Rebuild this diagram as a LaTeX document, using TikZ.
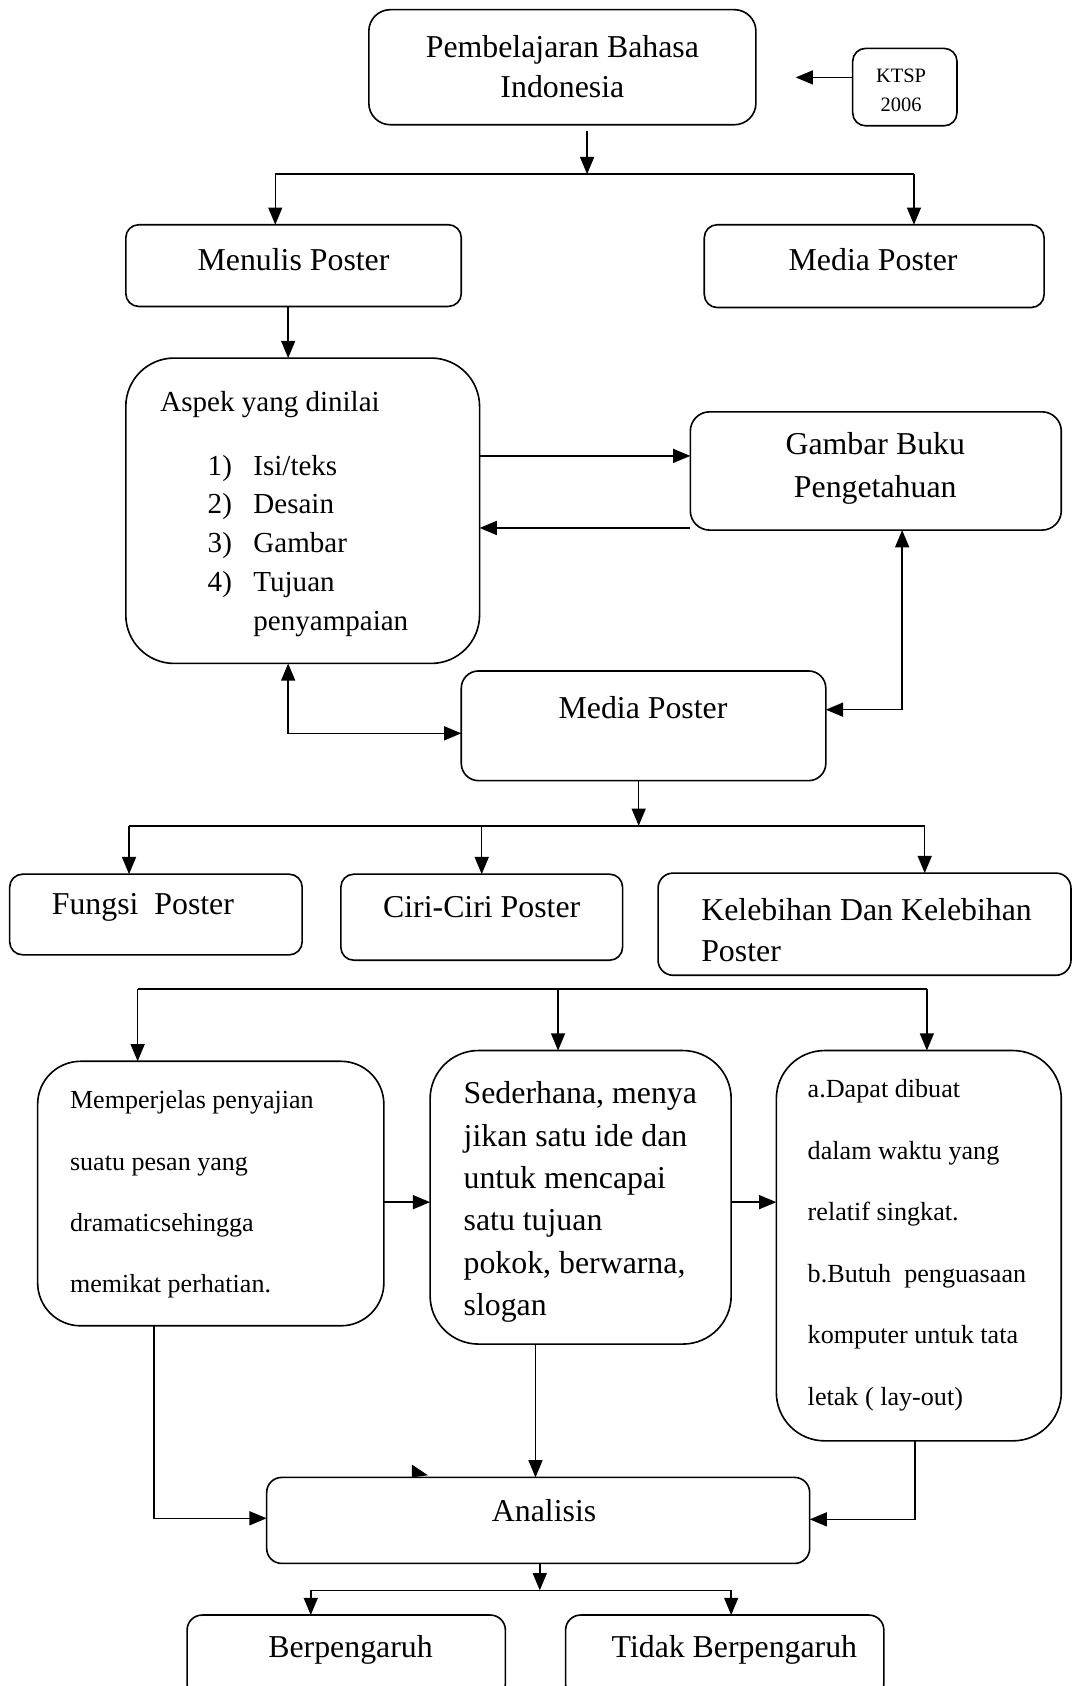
\documentclass[tikz,border=0pt]{standalone}
\usepackage{fontspec}
\setmainfont{Liberation Serif}
\usetikzlibrary{arrows.meta,calc}
\tikzset{
  box/.style={draw=black, line width=1.5pt, inner sep=0pt, outer sep=0pt, rounded corners=#1},
  box/.default=12pt,
  conn/.style={line width=1.4pt},
  arr/.style={conn, -{Triangle[length=16pt,width=13pt]}},
  arrb/.style={conn, {Triangle[length=16pt,width=13pt]}-{Triangle[length=16pt,width=13pt]}},
  big/.style={font=\fontsize{29.6}{38}\selectfont, inner sep=0pt},
  mid/.style={font=\fontsize{27}{36}\selectfont, inner sep=0pt},
  small/.style={font=\fontsize{24.3}{57.2}\selectfont, inner sep=0pt},
  tiny/.style={font=\fontsize{19}{27}\selectfont, inner sep=0pt},
}
\begin{document}
\begin{tikzpicture}[x=1pt,y=-1pt]
\useasboundingbox (0,0) rectangle (998,1568);
\clip (0,0) rectangle (998,1568);
\fill[white] (0,0) rectangle (998,1568);

% boxes
\node[box=20pt, minimum width=360pt, minimum height=107pt] (top) at (523,62.5) {};
\node[box=12pt, minimum width=97pt, minimum height=72pt] (ktsp) at (841.5,81) {};
\node[box=12pt, minimum width=312pt, minimum height=76pt] (menulis) at (273,247) {};
\node[box=12pt, minimum width=316pt, minimum height=77pt] (media1) at (813,247.5) {};
\node[box=45pt, minimum width=329pt, minimum height=284pt] (aspek) at (281.5,475) {};
\node[box=18pt, minimum width=345pt, minimum height=110pt] (gambar) at (814.5,438) {};
\node[box=16pt, minimum width=339pt, minimum height=102pt] (media2) at (598.5,675) {};
\node[box=12pt, minimum width=272pt, minimum height=75pt] (fungsi) at (145,850.5) {};
\node[box=12pt, minimum width=262pt, minimum height=80pt] (ciri) at (448,853) {};
\node[box=14pt, minimum width=384pt, minimum height=95pt] (kelebihan) at (804,859.5) {};
\node[box=40pt, minimum width=322pt, minimum height=246pt] (memper) at (196,1110) {};
\node[box=45pt, minimum width=280pt, minimum height=273pt] (seder) at (540,1113.5) {};
\node[box=45pt, minimum width=265pt, minimum height=363pt] (dapat) at (854.5,1158.5) {};
\node[box=14pt, minimum width=505pt, minimum height=80pt] (analisis) at (500.5,1414) {};
\node[box=14pt, minimum width=296pt, minimum height=78pt] (berp) at (322,1541) {};
\node[box=14pt, minimum width=296pt, minimum height=78pt] (tidak) at (674,1541) {};

% texts
\node[big, align=center] (ttop) at (523,62) {Pembelajaran Bahasa\\Indonesia};
\node[tiny, align=center] (tktsp) at (838,84) {KTSP\\2006};
\node[big] (tmenulis) at (273,241) {Menulis Poster};
\node[big] (tmedia1) at (812,241) {Media Poster};
\node[mid, anchor=base west] (taspek) at (149,383) {Aspek yang dinilai};
\node[mid, anchor=base west] (tlist) at (193,442) {\begin{tabular}[t]{@{}l@{\hspace{20pt}}l@{}}1) & Isi/teks\\ 2) & Desain\\ 3) & Gambar\\ 4) & Tujuan\\ & penyampaian\end{tabular}};
\node[big, align=center, font=\fontsize{29.6}{40}\selectfont] (tgambar) at (814,436) {Gambar Buku\\Pengetahuan};
\node[big] (tmedia2) at (598,658) {Media Poster};
\node[big, anchor=west] (tfungsi) at (48,844) {Fungsi\ \ Poster};
\node[big] (tciri) at (448,844) {Ciri-Ciri Poster};
\node[big, anchor=west, align=left, font=\fontsize{29.6}{39}\selectfont] (tkelebihan) at (652,865) {Kelebihan Dan Kelebihan\\Poster};
\node[small, anchor=west, align=left, font=\fontsize{24.2}{57}\selectfont] (tmemper) at (65,1111) {Memperjelas penyajian\\suatu pesan yang\\dramaticsehingga\\memikat perhatian.};
\node[big, anchor=west, align=left, font=\fontsize{29.6}{39.4}\selectfont] (tseder) at (431,1118) {Sederhana, menya\\jikan satu ide dan\\untuk mencapai\\satu tujuan\\pokok, berwarna,\\slogan};
\node[small, anchor=west, align=left] (tdapat) at (751,1158) {a.Dapat dibuat\\dalam waktu yang\\relatif singkat.\\b.Butuh\ \ penguasaan\\komputer untuk tata\\letak ( lay-out)};
\node[big] (tanalisis) at (506,1405) {Analisis};
\node[big] (tberp) at (326,1534) {Berpengaruh};
\node[big] (ttidak) at (683,1534) {Tidak Berpengaruh};

% helper coordinates
\coordinate (kt1) at (740,72);
\coordinate (j1) at (546,162);
\coordinate (jl) at (256,162);
\coordinate (jr) at (850,162);
\coordinate (ax) at (268,0);
\coordinate (ay1) at (0,424);
\coordinate (ay2) at (0,491);
\coordinate (by) at (0,682);
\coordinate (gx) at (839,0);
\coordinate (gy) at (0,660);
\coordinate (j2) at (594,768);
\coordinate (j2l) at (120,768);
\coordinate (j2m) at (448,768);
\coordinate (j2r) at (860,768);
\coordinate (j3l) at (128,920);
\coordinate (j3m) at (519,920);
\coordinate (j3r) at (862,920);
\coordinate (my) at (0,1118);
\coordinate (mx) at (143,0);
\coordinate (sx) at (498,0);
\coordinate (dx) at (851,0);
\coordinate (ly) at (0,1412);
\coordinate (ly2) at (0,1413);
\coordinate (j4) at (502,1479);
\coordinate (j4l) at (289,1479);
\coordinate (j4r) at (680,1479);

% connectors
\draw[arr] (ktsp.west |- kt1) -- (kt1);
\draw[arr] ([yshift=-6pt]top.south -| j1) -- (j1);
\draw[conn] (jl) -- (jr);
\draw[arr] (jl) -- (menulis.north -| jl);
\draw[arr] (jr) -- (media1.north -| jr);
\draw[arr] (menulis.south -| ax) -- (aspek.north -| ax);
\draw[arr] (aspek.east |- ay1) -- (gambar.west |- ay1);
\draw[arr] (gambar.west |- ay2) -- (aspek.east |- ay2);
\draw[arrb] (aspek.south -| ax) |- (media2.west |- by);
\draw[arrb] (gambar.south -| gx) |- (media2.east |- gy);
\draw[arr] (media2.south -| j2) -- (j2);
\draw[conn] (j2l) -- (j2r);
\draw[arr] (j2l) -- (fungsi.north -| j2l);
\draw[arr] (j2m) -- (ciri.north -| j2m);
\draw[arr] (j2r) -- (kelebihan.north -| j2r);
\draw[conn] (j3l) -- (j3r);
\draw[arr] (j3l) -- (memper.north -| j3l);
\draw[arr] (j3m) -- (seder.north -| j3m);
\draw[arr] (j3r) -- (dapat.north -| j3r);
\draw[arr] (memper.east |- my) -- (seder.west |- my);
\draw[arr] (seder.east |- my) -- (dapat.west |- my);
\draw[arr] (memper.south -| mx) |- (analisis.west |- ly);
\draw[arr] (seder.south -| sx) -- (analisis.north -| sx);
\draw[arr] (dapat.south -| dx) |- (analisis.east |- ly2);
\fill (383,1362) -- (398,1372) -- (383,1374) -- cycle;
\draw[arr] (analisis.south -| j4) -- (j4);
\draw[conn] (j4l) -- (j4r);
\draw[arr] (j4l) -- (berp.north -| j4l);
\draw[arr] (j4r) -- (tidak.north -| j4r);
\end{tikzpicture}
\end{document}
